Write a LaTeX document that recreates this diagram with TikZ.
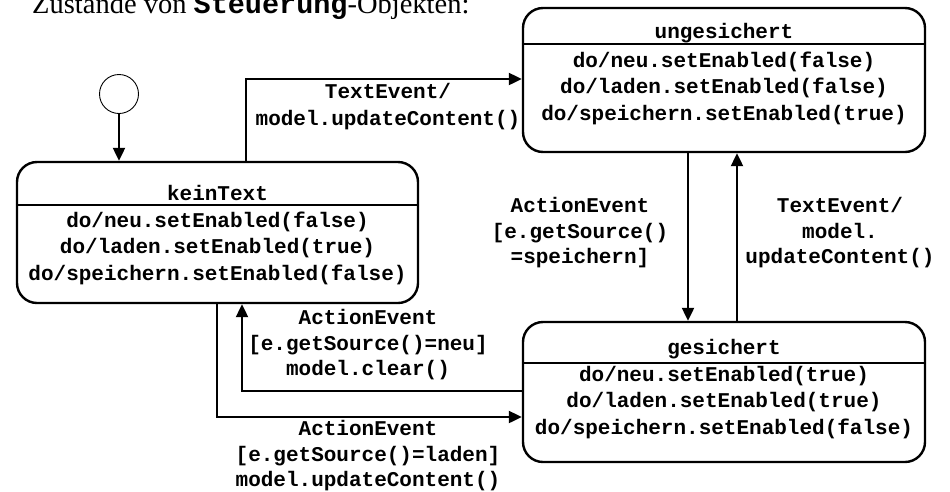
\documentclass[tikz,border=0pt]{standalone}
\usepackage{fontspec}
\setmainfont{Liberation Serif}
\setmonofont{Liberation Mono}
\usetikzlibrary{arrows.meta}
\begin{document}
\begin{tikzpicture}[x=1pt,y=-1pt,
  statebox/.style={draw, line width=2.4pt, rounded corners=20pt, inner sep=0pt},
  sep/.style={line width=2.4pt},
  code/.style={font=\ttfamily\bfseries\fontsize{21}{25.5}\selectfont, inner sep=0pt, align=center},
  body/.style={font=\ttfamily\bfseries\fontsize{21}{26.5}\selectfont, inner sep=0pt, align=center},
  arr/.style={line width=2.2pt, -{Triangle[length=13pt,width=12pt]}},
]
\useasboundingbox (0,0) rectangle (950,491);

% title
\node[anchor=base west, inner sep=0pt, font=\fontsize{28.5}{30}\selectfont] (title) at (32,13)
  {Zustände von \texttt{\bfseries Steuerung}-Objekten:};

% initial state
\node[draw, circle, line width=0.9pt, minimum size=39pt, inner sep=0pt] (init) at (119,94) {};

% keinText
\node[statebox, minimum width=401pt, minimum height=141pt] (kein) at (217.5,232.5) {};
\node[code] (keinH) at (217.5,193) {keinText};
\draw[sep] (kein.west |- 0,205) -- (kein.east |- 0,205);
\node[body] (keinB) at (217.5,248) {do/neu.setEnabled(false)\\do/laden.setEnabled(true)\\do/speichern.setEnabled(false)};

% ungesichert
\node[statebox, minimum width=402pt, minimum height=144pt] (ung) at (724,80) {};
\node[code] (ungH) at (724,33) {ungesichert};
\draw[sep] (ung.west |- 0,44) -- (ung.east |- 0,44);
\node[body] (ungB) at (724,88) {do/neu.setEnabled(false)\\do/laden.setEnabled(false)\\do/speichern.setEnabled(true)};

% gesichert
\node[statebox, minimum width=402pt, minimum height=140pt] (ges) at (724,392) {};
\node[code] (gesH) at (724,349) {gesichert};
\draw[sep] (ges.west |- 0,363) -- (ges.east |- 0,363);
\node[body] (gesB) at (724,402.5) {do/neu.setEnabled(true)\\do/laden.setEnabled(true)\\do/speichern.setEnabled(false)};

% connectors
\draw[arr] (init) -- (kein.north -| init);
\draw[arr] (kein.north -| 246,0) |- (ung.west |- 0,79);
\draw[arr] (ung.south -| 688,0) -- (ges.north -| 688,0);
\draw[arr] (ges.north -| 737,0) -- (ung.south -| 737,0);
\draw[arr] (ges.west |- 0,391) -| (kein.south -| 242,0);
\draw[arr] (kein.south -| 217,0) |- (ges.west |- 0,417);

% labels
\node[code, font=\ttfamily\bfseries\fontsize{21}{27}\selectfont] (lTE1) at (388,106.5) {TextEvent/\\model.updateContent()};
\node[code] (lAE1) at (580,233) {ActionEvent\\{}[e.getSource()\\=speichern]};
\node[code] (lTE2) at (840,233) {TextEvent/\\model.\\updateContent()};
\node[code] (lNeu) at (368,345) {ActionEvent\\{}[e.getSource()=neu]\\model.clear()};
\node[code] (lLaden) at (368,456) {ActionEvent\\{}[e.getSource()=laden]\\model.updateContent()};
\end{tikzpicture}
\end{document}
